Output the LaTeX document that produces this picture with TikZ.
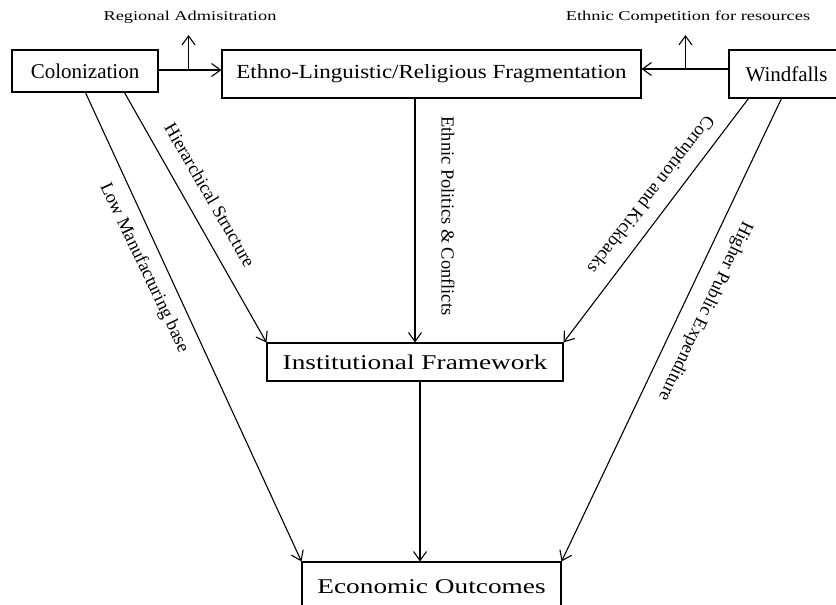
\documentclass[tikz,border=0pt]{standalone}
\usepackage{fontspec}
\setmainfont{Liberation Serif}
\usetikzlibrary{arrows.meta,calc}
\begin{document}
\begin{tikzpicture}[x=1pt,y=-1pt,
  line width=1.1pt,
  arr/.style={-{Straight Barb[length=9pt,width=13pt]}},
  box/.style={draw,rectangle,inner sep=0pt,align=center,font=\fontsize{21}{24}\selectfont},
  toplabel/.style={inner sep=0pt,font=\fontsize{13.6}{16}\selectfont},
  rotlabel/.style={inner sep=0pt,font=\fontsize{18.4}{21}\selectfont}]
\clip (0,0) rectangle (836,605);
\useasboundingbox (0,0) rectangle (836,605);
% boxes
\node[box,minimum width=146pt,minimum height=42pt] (col) at (85,71) {Colonization};
\node[box,minimum width=419pt,minimum height=48pt,font=\fontsize{20}{23}\selectfont] (eth) at (431.5,74) {\scalebox{1.15}[1]{Ethno-Linguistic/Religious Fragmentation}};
\node[box,minimum width=115pt,minimum height=48pt] (wind) at (786.5,74) {Windfalls};
\node[box,minimum width=296pt,minimum height=38pt] (inst) at (415,362) {\scalebox{1.3}[1]{Institutional Framework}};
\node[box,minimum width=259pt,minimum height=50pt] (eco) at (431.5,587) {\scalebox{1.3}[1]{Economic Outcomes}};
% top connectors
\coordinate (c1) at ($(col.east)+(0,-1)$);
\draw[arr] (c1) -- (c1 -| eth.west);
\coordinate (b1) at ($(c1)+(30,0)$);
\coordinate (r1) at ($(b1)+(0,-35)$);
\draw[arr] (b1) -- (r1);
\node[toplabel] (reg) at (190,17) {\scalebox{1.35}[1]{Regional Admisitration}};
\coordinate (w1) at ($(wind.west)+(0,-5)$);
\draw[arr] (w1) -- (w1 -| eth.east);
\coordinate (b2) at ($(w1)+(-43,0)$);
\coordinate (r2) at ($(b2)+(0,-34)$);
\draw[arr] (b2) -- (r2);
\node[toplabel] (ecr) at (688,17) {\scalebox{1.35}[1]{Ethnic Competition for resources}};
% diagonal connectors
\coordinate (cs1) at ($(col.south west)+(74,0)$);
\coordinate (cs2) at ($(col.south west)+(113,0)$);
\coordinate (ws1) at ($(wind.south west)+(20,0)$);
\coordinate (ws2) at ($(wind.south west)+(53,0)$);
\coordinate (is) at ($(inst.south)+(5,0)$);
\coordinate (et) at (is |- eco.north);
\draw[arr] (cs1) -- (eco.north west);
\draw[arr] (cs2) -- (inst.north west);
\draw[arr] (inst.north |- eth.south) -- (inst.north);
\draw[arr] (ws1) -- (inst.north east);
\draw[arr] (ws2) -- (eco.north east);
\draw[arr] (is) -- (et);
% rotated labels
\node[rotlabel,rotate=-64.5] (lm) at (144,268) {Low Manufacturing base};
\node[rotlabel,rotate=-60] (hs) at (210,195) {Hierarchical Structure};
\node[rotlabel,rotate=-90] (ep) at (448,216) {Ethnic Politics \& Conflicts};
\node[rotlabel,rotate=-128] (ck) at (650,194) {Corruption and Kickbacks};
\node[rotlabel,rotate=-115.5] (hp) at (705,311) {Higher Public Expenditure};
\end{tikzpicture}
\end{document}
